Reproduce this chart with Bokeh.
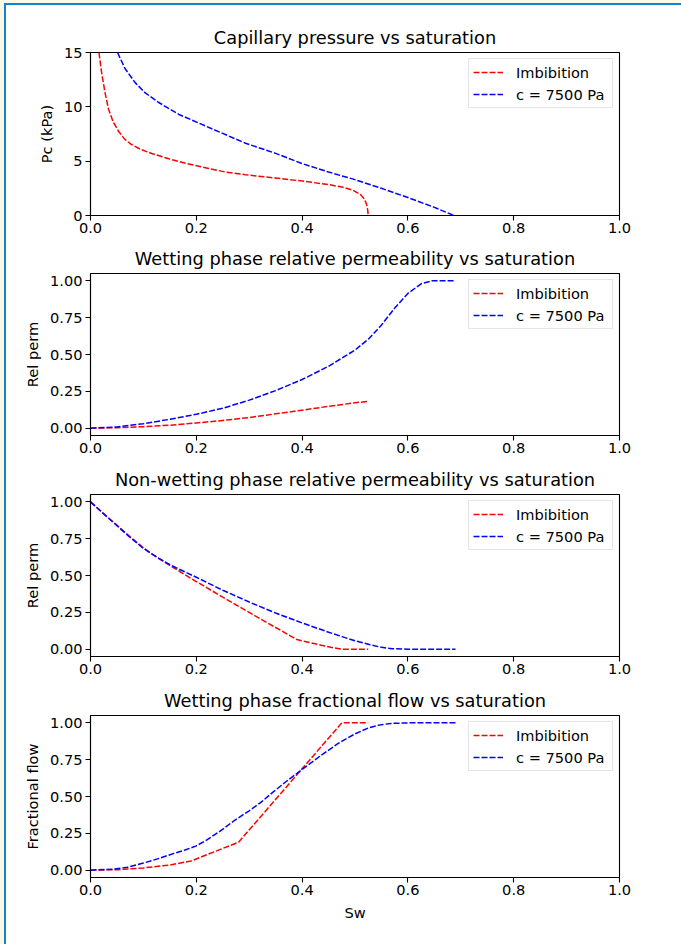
from bokeh.plotting import figure
from bokeh.layouts import column
from bokeh.models import Range1d, FixedTicker, NumeralTickFormatter
from bokeh.embed import file_html
from bokeh.resources import INLINE

# ---------------- data ----------------
titles = ["Capillary pressure vs saturation",
          "Wetting phase relative permeability vs saturation",
          "Non-wetting phase relative permeability vs saturation",
          "Wetting phase fractional flow vs saturation"]
ylabels = ["Pc (kPa)", "Rel perm", "Rel perm", "Fractional flow"]
series_names = ["Imbibition", "c = 7500 Pa"]
x_ticks = [0.0, 0.2, 0.4, 0.6, 0.8, 1.0]
pc_ticks = [0, 5, 10, 15]
unit_ticks = [0.0, 0.25, 0.5, 0.75, 1.0]

# Capillary pressure (kPa)
pc_imb_sw = [0.016, 0.021, 0.0275, 0.034, 0.043, 0.053, 0.064, 0.077, 0.094, 0.116, 0.148, 0.18,
             0.217, 0.255, 0.293, 0.35, 0.4, 0.45, 0.477, 0.495, 0.51, 0.518, 0.522, 0.524, 0.525]
pc_imb = [15.0, 13.15, 11.3, 9.8, 8.6, 7.75, 7.05, 6.55, 6.1, 5.7, 5.22, 4.8,
          4.4, 4.0, 3.75, 3.45, 3.17, 2.85, 2.6, 2.35, 1.95, 1.5, 1.0, 0.5, 0.0]
pc_c_sw = [0.051, 0.0655, 0.084, 0.103, 0.129, 0.167, 0.205, 0.243, 0.293, 0.35, 0.4,
           0.45, 0.5, 0.55, 0.6, 0.65, 0.687]
pc_c = [15.0, 13.5, 12.25, 11.3, 10.4, 9.3, 8.5, 7.7, 6.65, 5.72, 4.78,
        4.0, 3.3, 2.5, 1.65, 0.75, 0.0]

# Wetting phase relative permeability
krw_imb_sw = [0.0, 0.05, 0.1, 0.15, 0.2, 0.25, 0.3, 0.35, 0.4, 0.45, 0.5, 0.525]
krw_imb = [0.0, 0.003, 0.01, 0.02, 0.035, 0.052, 0.072, 0.097, 0.122, 0.148, 0.172, 0.182]
krw_c_sw = [0.0, 0.05, 0.1, 0.15, 0.2, 0.25, 0.3, 0.35, 0.4, 0.45, 0.5, 0.527, 0.55,
            0.575, 0.6, 0.625, 0.645, 0.69]
krw_c = [0.0, 0.008, 0.03, 0.06, 0.094, 0.135, 0.19, 0.255, 0.33, 0.42, 0.53, 0.61, 0.70,
         0.815, 0.915, 0.98, 1.0, 1.0]

# Non-wetting phase relative permeability
krn_imb_sw = [0.0, 0.025, 0.05, 0.075, 0.1, 0.125, 0.15, 0.19, 0.28, 0.39, 0.436, 0.46, 0.477, 0.525]
krn_imb = [1.0, 0.92, 0.842, 0.762, 0.688, 0.625, 0.568, 0.48, 0.29, 0.065, 0.027, 0.008, 0.0, 0.0]
krn_c_sw = [0.0, 0.025, 0.05, 0.075, 0.1, 0.125, 0.15, 0.2, 0.25, 0.3, 0.35, 0.4, 0.45, 0.477,
            0.5, 0.527, 0.55, 0.57, 0.6, 0.69]
krn_c = [1.0, 0.918, 0.838, 0.758, 0.684, 0.625, 0.573, 0.488, 0.4, 0.32, 0.245, 0.178, 0.115, 0.083,
         0.057, 0.031, 0.012, 0.003, 0.0, 0.0]

# Wetting phase fractional flow
fw_imb_sw = [0.0, 0.05, 0.1, 0.15, 0.19, 0.28, 0.475, 0.525]
fw_imb = [0.0, 0.003, 0.015, 0.035, 0.062, 0.19, 1.0, 1.0]
fw_c_sw = [0.0, 0.043, 0.07, 0.1, 0.13, 0.158, 0.18, 0.2, 0.22, 0.245, 0.272, 0.3, 0.322, 0.345,
           0.371, 0.404, 0.436, 0.469, 0.5, 0.527, 0.55, 0.568, 0.6, 0.69]
fw_c = [0.0, 0.007, 0.02, 0.048, 0.08, 0.114, 0.138, 0.165, 0.205, 0.265, 0.337, 0.403, 0.46, 0.53,
        0.605, 0.694, 0.78, 0.862, 0.925, 0.968, 0.988, 0.996, 1.0, 1.0]

panels = [
    (pc_imb_sw, pc_imb, pc_c_sw, pc_c),
    (krw_imb_sw, krw_imb, krw_c_sw, krw_c),
    (krn_imb_sw, krn_imb, krn_c_sw, krn_c),
    (fw_imb_sw, fw_imb, fw_c_sw, fw_c),
]

# ---------------- styling ----------------
FONT = "DejaVu Sans"
DASH = "6 2"
TXT = "14.6px"
heights = [236, 221, 221, 261]
tops = [47, 31, 31, 31]
bottoms = [26, 27, 27, 67]

figs = []
for i in range(4):
    if i == 0:
        yr = Range1d(0, 15)
        yt = pc_ticks
        yfmt = "0"
    else:
        yr = Range1d(-0.05, 1.05)
        yt = unit_ticks
        yfmt = "0.00"
    p = figure(width=675, height=heights[i], output_backend="svg", toolbar_location=None,
               x_range=Range1d(0, 1), y_range=yr,
               min_border_left=84, min_border_right=62,
               min_border_top=tops[i], min_border_bottom=bottoms[i])
    p.title.text = titles[i]
    p.title.text_font = FONT
    p.title.text_font_size = "17.8px"
    p.title.text_font_style = "normal"
    p.title.text_color = "black"
    p.title.align = "center"
    p.title.standoff = 9
    p.xgrid.visible = False
    p.ygrid.visible = False
    p.outline_line_color = "black"
    p.outline_line_width = 1.1
    p.outline_line_alpha = 1.0
    p.background_fill_color = "white"
    p.border_fill_color = "white"

    p.xaxis.ticker = FixedTicker(ticks=x_ticks)
    p.xaxis.formatter = NumeralTickFormatter(format="0.0")
    p.yaxis.ticker = FixedTicker(ticks=yt)
    p.yaxis.formatter = NumeralTickFormatter(format=yfmt)
    for ax in (p.xaxis, p.yaxis):
        ax.major_label_text_font = FONT
        ax.major_label_text_font_size = TXT
        ax.major_label_text_color = "black"
        ax.major_tick_out = 5
        ax.major_tick_in = 0
        ax.minor_tick_out = 0
        ax.minor_tick_in = 0
        ax.axis_line_width = 1.1
        ax.major_tick_line_width = 1.1
        ax.axis_line_color = "black"
        ax.major_tick_line_color = "black"
        ax.major_label_standoff = 2
        ax.axis_label_text_font = FONT
        ax.axis_label_text_font_size = TXT
        ax.axis_label_text_font_style = "normal"
        ax.axis_label_text_color = "black"
        ax.axis_label_standoff = 6
    p.yaxis.major_label_standoff = 3
    p.yaxis.axis_label = ylabels[i]
    if i == 3:
        p.xaxis.axis_label = "Sw"

    xs1, ys1, xs2, ys2 = panels[i]
    p.line(xs1, ys1, line_color="red", line_width=1.5, line_dash=DASH,
           line_join="round", legend_label=series_names[0])
    p.line(xs2, ys2, line_color="blue", line_width=1.5, line_dash=DASH,
           line_join="round", legend_label=series_names[1])

    lg = p.legend[0]
    lg.location = "top_right"
    lg.margin = 6
    lg.padding = 4
    lg.spacing = 4
    lg.glyph_width = 30
    lg.glyph_height = 18
    lg.label_height = 18
    lg.label_width = 92
    lg.label_standoff = 13
    lg.label_text_font = FONT
    lg.label_text_font_size = TXT
    lg.label_text_color = "black"
    lg.border_line_color = "#cccccc"
    lg.border_line_width = 1
    lg.background_fill_color = "white"
    lg.background_fill_alpha = 0.8
    figs.append(p)

inner = column(*figs, spacing=0,
               styles={"border-left": "2px solid #0b87cf",
                       "border-top": "2px solid #0b87cf",
                       "background-color": "white"})
outer = column(inner, spacing=0,
               styles={"background-color": "#fbf7e9",
                       "padding-left": "4px",
                       "padding-top": "3px"})

open("out.html", "w").write(file_html(outer, INLINE))
